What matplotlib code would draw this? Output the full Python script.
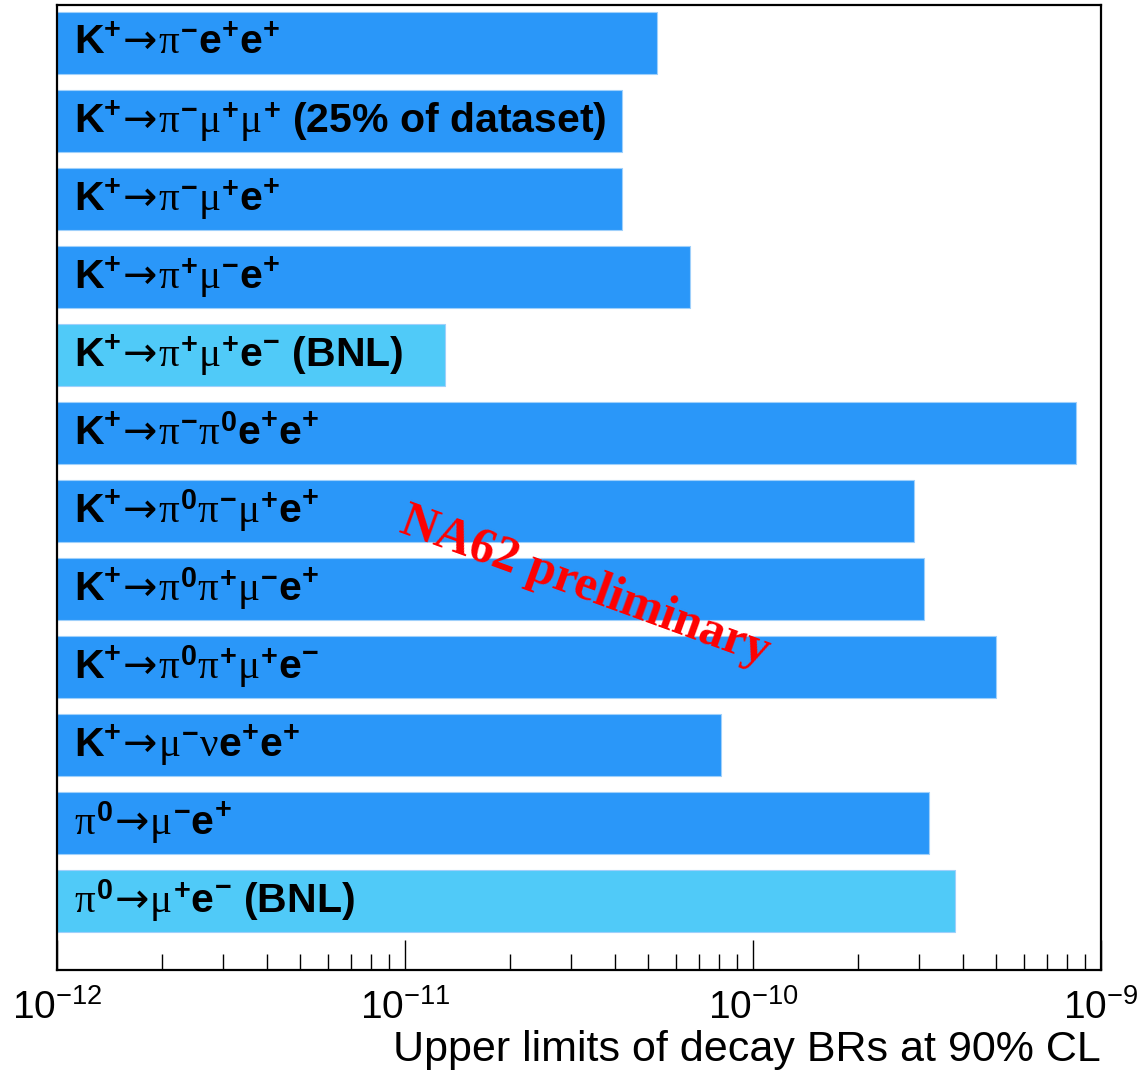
import matplotlib
matplotlib.use("Agg")
import matplotlib.pyplot as plt
import numpy as np

plt.rcParams['font.family'] = ['Liberation Sans', 'DejaVu Sans']
plt.rcParams['mathtext.fontset'] = 'custom'
plt.rcParams['mathtext.rm'] = 'DejaVu Sans'
plt.rcParams['mathtext.bf'] = 'Liberation Sans:bold'
plt.rcParams['mathtext.it'] = 'Liberation Serif'
plt.rcParams['mathtext.sf'] = 'Liberation Sans'

dark_blue = '#2A97F9'
light_blue = '#50CAF8'

# decay channels, top to bottom
labels = [
    r"$\mathbf{K^{+}}\!\rightarrow\!\pi^{\mathbf{-}}\mathbf{e^{+}e^{+}}$",
    r"$\mathbf{K^{+}}\!\rightarrow\!\pi^{\mathbf{-}}\mu^{\mathbf{+}}\mu^{\mathbf{+}}$ (25% of dataset)",
    r"$\mathbf{K^{+}}\!\rightarrow\!\pi^{\mathbf{-}}\mu^{\mathbf{+}}\mathbf{e^{+}}$",
    r"$\mathbf{K^{+}}\!\rightarrow\!\pi^{\mathbf{+}}\mu^{\mathbf{-}}\mathbf{e^{+}}$",
    r"$\mathbf{K^{+}}\!\rightarrow\!\pi^{\mathbf{+}}\mu^{\mathbf{+}}\mathbf{e^{-}}$ (BNL)",
    r"$\mathbf{K^{+}}\!\rightarrow\!\pi^{\mathbf{-}}\pi^{\mathbf{0}}\mathbf{e^{+}e^{+}}$",
    r"$\mathbf{K^{+}}\!\rightarrow\!\pi^{\mathbf{0}}\pi^{\mathbf{-}}\mu^{\mathbf{+}}\mathbf{e^{+}}$",
    r"$\mathbf{K^{+}}\!\rightarrow\!\pi^{\mathbf{0}}\pi^{\mathbf{+}}\mu^{\mathbf{-}}\mathbf{e^{+}}$",
    r"$\mathbf{K^{+}}\!\rightarrow\!\pi^{\mathbf{0}}\pi^{\mathbf{+}}\mu^{\mathbf{+}}\mathbf{e^{-}}$",
    r"$\mathbf{K^{+}}\!\rightarrow\!\mu^{\mathbf{-}}\nu\mathbf{e^{+}e^{+}}$",
    r"$\pi^{\mathbf{0}}\!\rightarrow\!\mu^{\mathbf{-}}\mathbf{e^{+}}$",
    r"$\pi^{\mathbf{0}}\!\rightarrow\!\mu^{\mathbf{+}}\mathbf{e^{-}}$ (BNL)",
]
# upper limits of BR at 90% CL
limits = [5.3e-11, 4.2e-11, 4.2e-11, 6.6e-11, 1.3e-11, 8.5e-10,
          2.9e-10, 3.1e-10, 5.0e-10, 8.1e-11, 3.2e-10, 3.8e-10]
is_bnl = [False, False, False, False, True, False,
          False, False, False, False, False, True]

xmin = 1e-12
fig = plt.figure(figsize=(11.4, 10.75), dpi=100)
ax = fig.add_axes([0.05, 0.0977, 0.9158, 0.8976])

ypos = np.arange(len(limits))
colors = [light_blue if b else dark_blue for b in is_bnl]
widths = [v - xmin for v in limits]
ax.barh(ypos, widths, left=xmin, height=0.8, color=colors,
        edgecolor='#9fd0fb', linewidth=0.8)

for i, lab in enumerate(labels):
    ax.text(0.016, i, lab, transform=ax.get_yaxis_transform(), va='center',
            ha='left', fontsize=29.5, fontweight='bold', color='black')

ax.set_xscale('log')
ax.set_xlim(1e-12, 1e-9)
ax.set_ylim(11.885, -0.49)
ax.set_yticks([])
ax.tick_params(axis='x', which='major', direction='in', length=21.5, width=1,
               labelsize=28, pad=14, top=False)
ax.tick_params(axis='x', which='minor', direction='in', length=11.5, width=1,
               top=False)
for sp in ax.spines.values():
    sp.set_linewidth(1.6)

ax.set_xlabel("Upper limits of decay BRs at 90% CL", fontsize=31, loc='right',
              labelpad=2)

# watermark
ax.text(0.506, 0.397, "NA62 preliminary", transform=ax.transAxes, rotation=-20,
        ha='center', va='center', color='red', fontsize=36, fontweight='bold',
        family='Liberation Serif', rotation_mode='anchor')

fig.savefig("out.png", dpi=100)
